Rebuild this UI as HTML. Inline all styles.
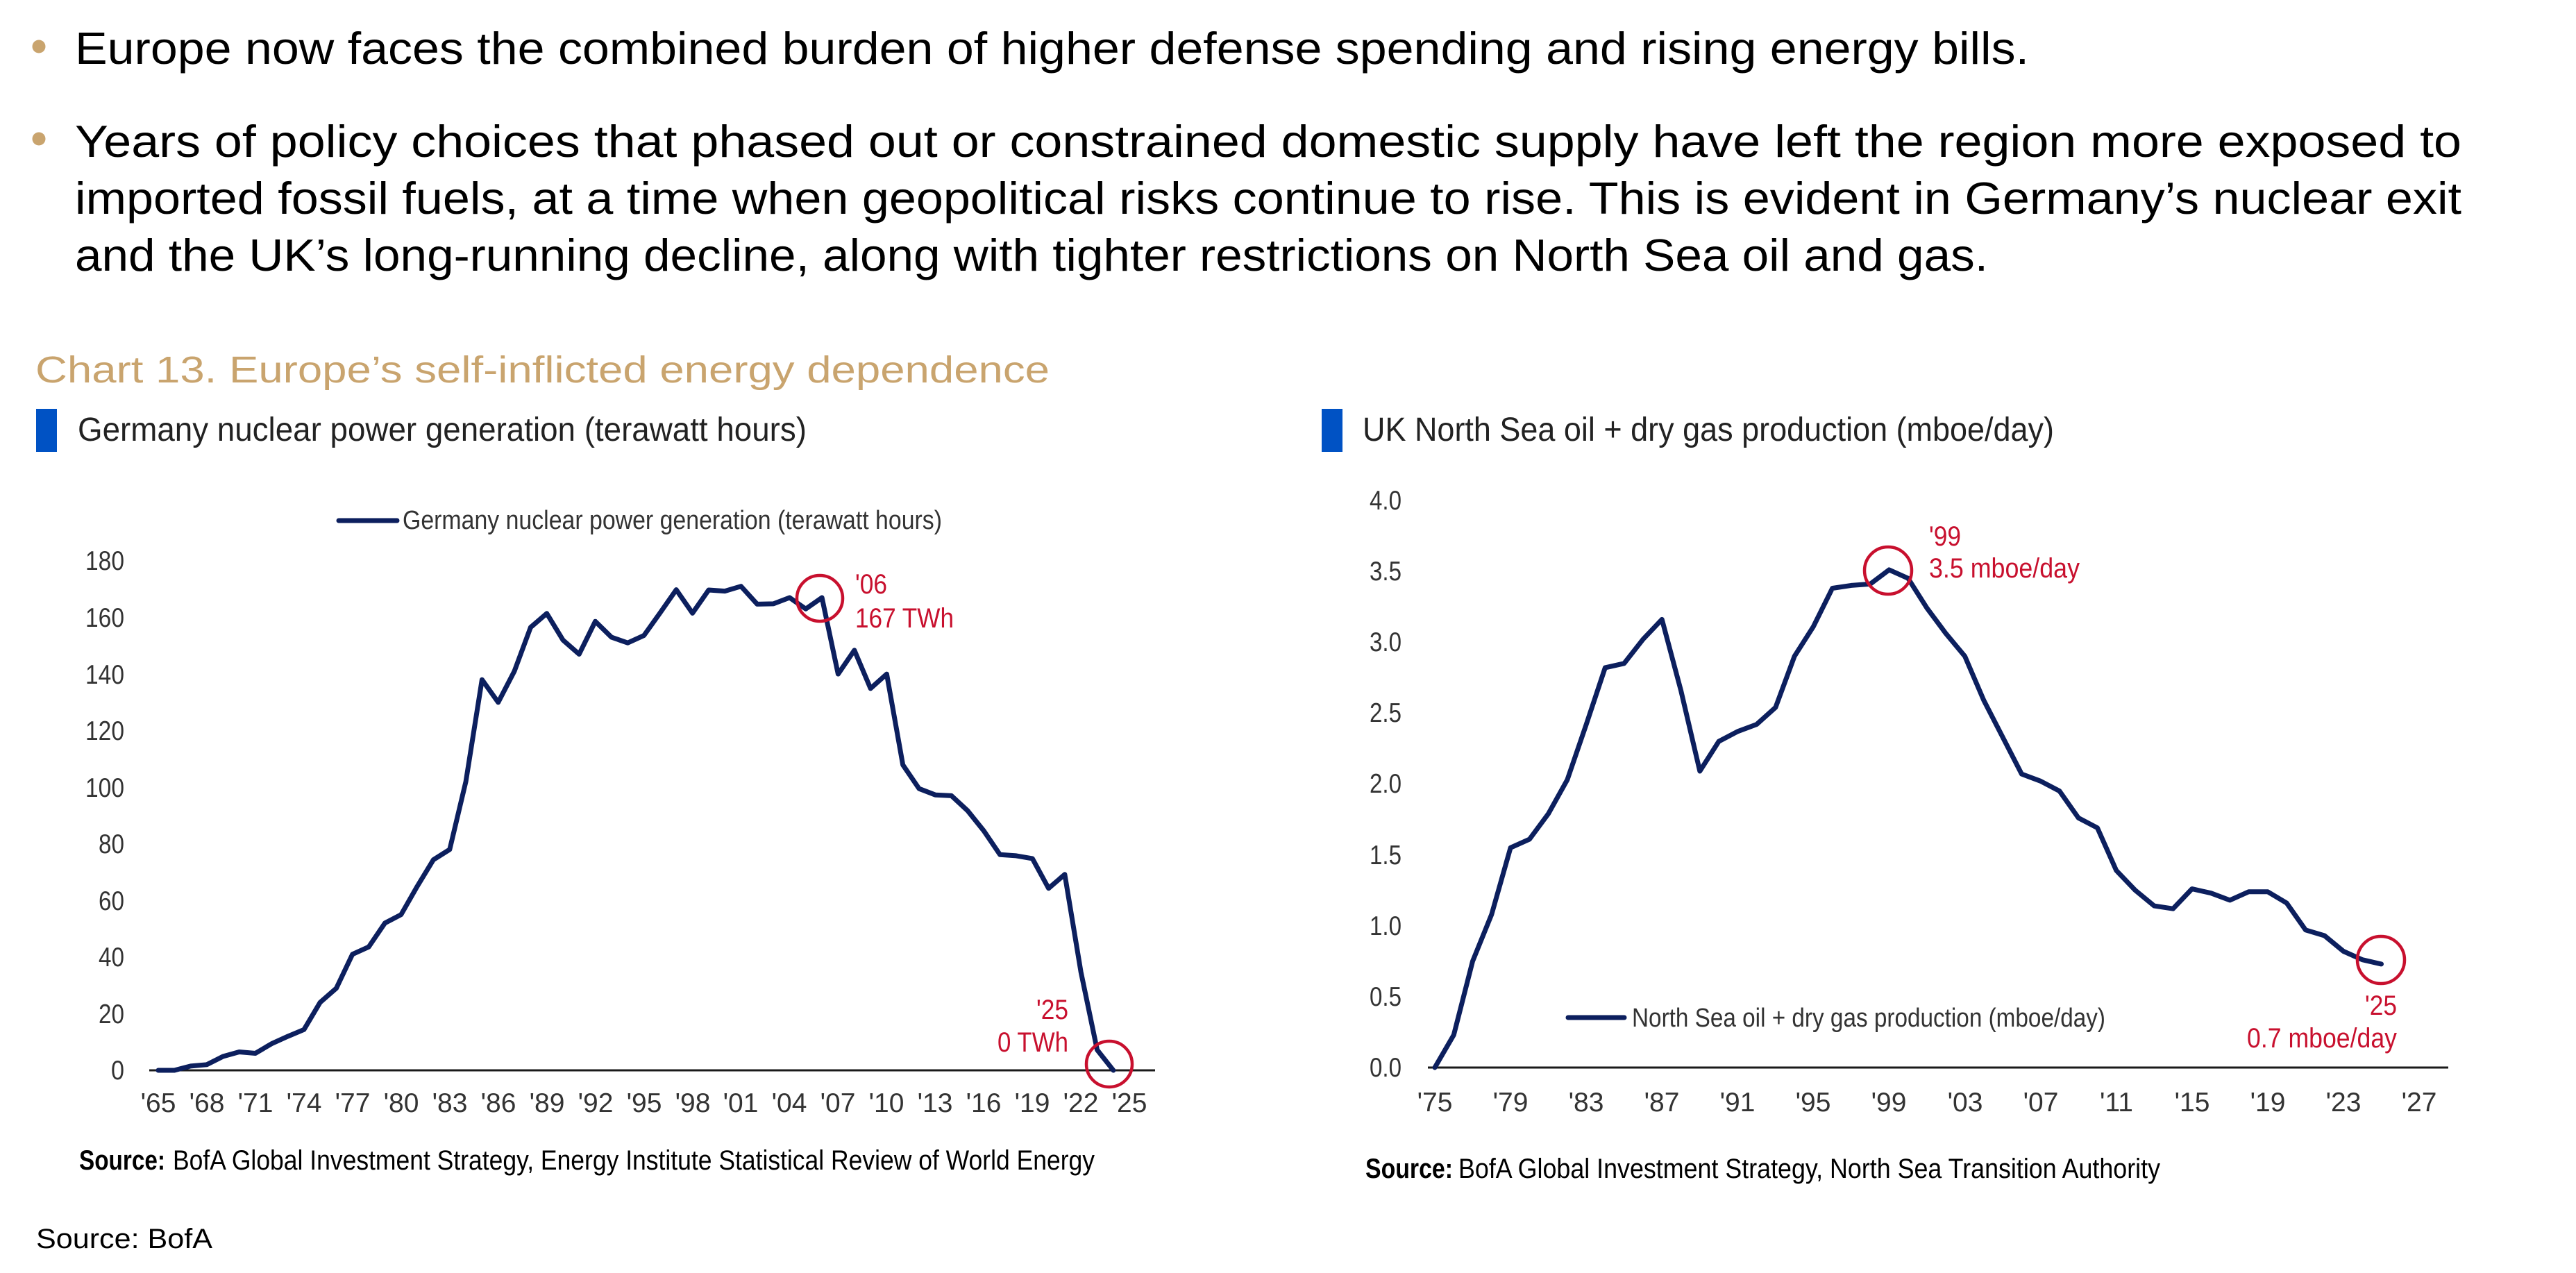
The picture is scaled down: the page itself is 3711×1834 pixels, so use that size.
<!DOCTYPE html>
<html>
<head>
<meta charset="utf-8">
<style>
html,body{margin:0;padding:0;background:#fff;}
svg{display:block;}
.body{font-family:"Liberation Sans",sans-serif;font-size:65px;fill:#000;}
.nar{font-family:"Liberation Sans Narrow","Liberation Sans",sans-serif;}
.tick{font-size:39px;fill:#333;}
.ann{font-size:40px;fill:#C8102E;}
</style>
</head>
<body>
<svg width="3711" height="1834" viewBox="0 0 3711 1834" xmlns="http://www.w3.org/2000/svg">
<rect width="3711" height="1834" fill="#fff"/>

<!-- bullets -->
<circle cx="56" cy="67" r="9.5" fill="#C9A46E"/>
<circle cx="56" cy="200" r="9.5" fill="#C9A46E"/>
<text class="body" x="108" y="92" textLength="2815" lengthAdjust="spacingAndGlyphs">Europe now faces the combined burden of higher defense spending and rising energy bills.</text>
<text class="body" x="108" y="226" textLength="3438" lengthAdjust="spacingAndGlyphs">Years of policy choices that phased out or constrained domestic supply have left the region more exposed to</text>
<text class="body" x="108" y="308" textLength="3438" lengthAdjust="spacingAndGlyphs">imported fossil fuels, at a time when geopolitical risks continue to rise. This is evident in Germany’s nuclear exit</text>
<text class="body" x="108" y="390" textLength="2756" lengthAdjust="spacingAndGlyphs">and the UK’s long-running decline, along with tighter restrictions on North Sea oil and gas.</text>

<!-- chart title -->
<text x="51" y="551" font-family="Liberation Sans, sans-serif" font-size="54" fill="#C9A46E" textLength="1461" lengthAdjust="spacingAndGlyphs">Chart 13. Europe’s self-inflicted energy dependence</text>

<!-- subtitles -->
<rect x="52" y="589" width="30" height="62" fill="#0052C4"/>
<text class="nar" x="112" y="635" font-size="48" fill="#222" textLength="1050" lengthAdjust="spacingAndGlyphs">Germany nuclear power generation (terawatt hours)</text>
<rect x="1904" y="589" width="30" height="62" fill="#0052C4"/>
<text class="nar" x="1963" y="635" font-size="48" fill="#222" textLength="996" lengthAdjust="spacingAndGlyphs">UK North Sea oil + dry gas production (mboe/day)</text>

<!-- ================= LEFT CHART ================= -->
<g class="nar tick" text-anchor="end">
<text x="179" y="1555" textLength="19" lengthAdjust="spacingAndGlyphs">0</text>
<text x="179" y="1474" textLength="37" lengthAdjust="spacingAndGlyphs">20</text>
<text x="179" y="1392" textLength="37" lengthAdjust="spacingAndGlyphs">40</text>
<text x="179" y="1311" textLength="37" lengthAdjust="spacingAndGlyphs">60</text>
<text x="179" y="1229" textLength="37" lengthAdjust="spacingAndGlyphs">80</text>
<text x="179" y="1148" textLength="56" lengthAdjust="spacingAndGlyphs">100</text>
<text x="179" y="1066" textLength="56" lengthAdjust="spacingAndGlyphs">120</text>
<text x="179" y="985" textLength="56" lengthAdjust="spacingAndGlyphs">140</text>
<text x="179" y="903" textLength="56" lengthAdjust="spacingAndGlyphs">160</text>
<text x="179" y="821" textLength="56" lengthAdjust="spacingAndGlyphs">180</text>
</g>
<g class="nar tick" text-anchor="middle">
<text x="228" y="1602">'65</text>
<text x="298" y="1602">'68</text>
<text x="368" y="1602">'71</text>
<text x="438" y="1602">'74</text>
<text x="508" y="1602">'77</text>
<text x="578" y="1602">'80</text>
<text x="648" y="1602">'83</text>
<text x="718" y="1602">'86</text>
<text x="788" y="1602">'89</text>
<text x="858" y="1602">'92</text>
<text x="928" y="1602">'95</text>
<text x="998" y="1602">'98</text>
<text x="1067" y="1602">'01</text>
<text x="1137" y="1602">'04</text>
<text x="1207" y="1602">'07</text>
<text x="1277" y="1602">'10</text>
<text x="1347" y="1602">'13</text>
<text x="1417" y="1602">'16</text>
<text x="1487" y="1602">'19</text>
<text x="1557" y="1602">'22</text>
<text x="1627" y="1602">'25</text>
</g>
<line x1="215" y1="1542" x2="1664" y2="1542" stroke="#1a1a1a" stroke-width="3"/>
<polyline fill="none" stroke="#0C1F5E" stroke-width="7" stroke-linejoin="round" stroke-linecap="round" points="
228,1542 251.3,1542 274.6,1535.9 298,1533.8 321.3,1522 344.6,1515.5 367.9,1517.5 391.2,1503.7 414.6,1493.1 437.9,1483.3
461.2,1444.1 484.5,1423.7 507.8,1374.8 531.2,1364.2 554.5,1329.9 577.8,1317.7 601.1,1276.9 624.4,1238.6 647.8,1223.9 671.1,1126
694.4,979.2 717.7,1011.9 741,967 764.4,903.8 787.7,883.8 811,922.1 834.3,942.5 857.6,895.2 881,918.1 904.3,926.2
927.6,915.6 950.9,883 974.2,849.6 997.6,883.4 1020.9,850 1044.2,851.6 1067.5,844.7 1090.8,870.4 1114.2,869.9 1137.5,861
1160.8,877.3 1184.1,861 1207.4,971.1 1230.8,936.8 1254.1,991.9 1277.4,971.1 1300.7,1102 1324,1136.2 1347.4,1145.2 1370.7,1146.4
1394,1168 1417.3,1197 1440.6,1231.3 1464,1232.9 1487.3,1236.9 1510.6,1279.8 1533.9,1259.8 1557.2,1400.5 1580.6,1512.6 1603.9,1542"/>
<!-- legend -->
<line x1="488" y1="750" x2="572" y2="750" stroke="#0C1F5E" stroke-width="7" stroke-linecap="round"/>
<text class="nar" x="580" y="762" font-size="38" fill="#333" textLength="777" lengthAdjust="spacingAndGlyphs">Germany nuclear power generation (terawatt hours)</text>
<!-- annotations -->
<circle cx="1181" cy="862" r="33" fill="none" stroke="#C8102E" stroke-width="4.5"/>
<text class="nar ann" x="1232" y="855" textLength="46" lengthAdjust="spacingAndGlyphs">'06</text>
<text class="nar ann" x="1232" y="904" textLength="142" lengthAdjust="spacingAndGlyphs">167 TWh</text>
<circle cx="1598" cy="1533" r="33" fill="none" stroke="#C8102E" stroke-width="4.5"/>
<text class="nar ann" x="1539" y="1468" text-anchor="end" textLength="46" lengthAdjust="spacingAndGlyphs">'25</text>
<text class="nar ann" x="1539" y="1515" text-anchor="end" textLength="102" lengthAdjust="spacingAndGlyphs">0 TWh</text>

<!-- source left -->
<text class="nar" x="114" y="1685" font-size="40" font-weight="bold" fill="#000" textLength="124" lengthAdjust="spacingAndGlyphs">Source:</text>
<text class="nar" x="249" y="1685" font-size="40" fill="#000" textLength="1328" lengthAdjust="spacingAndGlyphs">BofA Global Investment Strategy, Energy Institute Statistical Review of World Energy</text>

<!-- ================= RIGHT CHART ================= -->
<g class="nar tick" text-anchor="end">
<text x="2019" y="1551" textLength="46" lengthAdjust="spacingAndGlyphs">0.0</text>
<text x="2019" y="1449" textLength="46" lengthAdjust="spacingAndGlyphs">0.5</text>
<text x="2019" y="1347" textLength="46" lengthAdjust="spacingAndGlyphs">1.0</text>
<text x="2019" y="1245" textLength="46" lengthAdjust="spacingAndGlyphs">1.5</text>
<text x="2019" y="1142" textLength="46" lengthAdjust="spacingAndGlyphs">2.0</text>
<text x="2019" y="1040" textLength="46" lengthAdjust="spacingAndGlyphs">2.5</text>
<text x="2019" y="938" textLength="46" lengthAdjust="spacingAndGlyphs">3.0</text>
<text x="2019" y="836" textLength="46" lengthAdjust="spacingAndGlyphs">3.5</text>
<text x="2019" y="734" textLength="46" lengthAdjust="spacingAndGlyphs">4.0</text>
</g>
<g class="nar tick" text-anchor="middle">
<text x="2067" y="1601">'75</text>
<text x="2176" y="1601">'79</text>
<text x="2285" y="1601">'83</text>
<text x="2394" y="1601">'87</text>
<text x="2503" y="1601">'91</text>
<text x="2612" y="1601">'95</text>
<text x="2721" y="1601">'99</text>
<text x="2831" y="1601">'03</text>
<text x="2940" y="1601">'07</text>
<text x="3049" y="1601">'11</text>
<text x="3158" y="1601">'15</text>
<text x="3267" y="1601">'19</text>
<text x="3376" y="1601">'23</text>
<text x="3485" y="1601">'27</text>
</g>
<line x1="2057" y1="1538" x2="3527" y2="1538" stroke="#1a1a1a" stroke-width="3"/>
<polyline fill="none" stroke="#0C1F5E" stroke-width="7" stroke-linejoin="round" stroke-linecap="round" points="
2067,1538 2094.3,1491 2121.5,1384.8 2148.8,1317.4 2176.1,1221.3 2203.4,1209.1 2230.6,1172.3 2257.9,1123.3 2285.2,1043.6 2312.4,961.9
2339.7,955.8 2367,921 2394.2,892.4 2421.5,994.6 2448.8,1111 2476.1,1068.1 2503.3,1053.8 2530.6,1043.6 2557.9,1019.1 2585.1,945.5
2612.4,902.6 2639.7,847.5 2666.9,843.4 2694.2,841.4 2721.5,820.9 2748.8,833.2 2776,876.1 2803.3,912.8 2830.6,945.5 2857.8,1008.9
2885.1,1062 2912.4,1115.1 2939.6,1125.3 2966.9,1139.6 2994.2,1178.4 3021.5,1192.7 3048.7,1254 3076,1282.6 3103.3,1305.1 3130.5,1309.2
3157.8,1280.6 3185.1,1286.7 3212.3,1296.9 3239.6,1284.7 3266.9,1284.7 3294.2,1301 3321.4,1339.8 3348.7,1348 3376,1370.5 3403.2,1382.7 3430.5,1388.9"/>
<!-- legend -->
<line x1="2259" y1="1466" x2="2340" y2="1466" stroke="#0C1F5E" stroke-width="7" stroke-linecap="round"/>
<text class="nar" x="2351" y="1479" font-size="38" fill="#333" textLength="682" lengthAdjust="spacingAndGlyphs">North Sea oil + dry gas production (mboe/day)</text>
<!-- annotations -->
<circle cx="2720" cy="822" r="34" fill="none" stroke="#C8102E" stroke-width="4.5"/>
<text class="nar ann" x="2779" y="786" textLength="46" lengthAdjust="spacingAndGlyphs">'99</text>
<text class="nar ann" x="2779" y="832" textLength="217" lengthAdjust="spacingAndGlyphs">3.5 mboe/day</text>
<circle cx="3430" cy="1383" r="34" fill="none" stroke="#C8102E" stroke-width="4.5"/>
<text class="nar ann" x="3453" y="1462" text-anchor="end" textLength="46" lengthAdjust="spacingAndGlyphs">'25</text>
<text class="nar ann" x="3453" y="1509" text-anchor="end" textLength="216" lengthAdjust="spacingAndGlyphs">0.7 mboe/day</text>

<!-- source right -->
<text class="nar" x="1967" y="1697" font-size="40" font-weight="bold" fill="#000" textLength="126" lengthAdjust="spacingAndGlyphs">Source:</text>
<text class="nar" x="2101" y="1697" font-size="40" fill="#000" textLength="1011" lengthAdjust="spacingAndGlyphs">BofA Global Investment Strategy, North Sea Transition Authority</text>

<!-- bottom source -->
<text x="52" y="1798" font-family="Liberation Sans, sans-serif" font-size="40" fill="#000" textLength="254" lengthAdjust="spacingAndGlyphs">Source: BofA</text>
</svg>
</body>
</html>
